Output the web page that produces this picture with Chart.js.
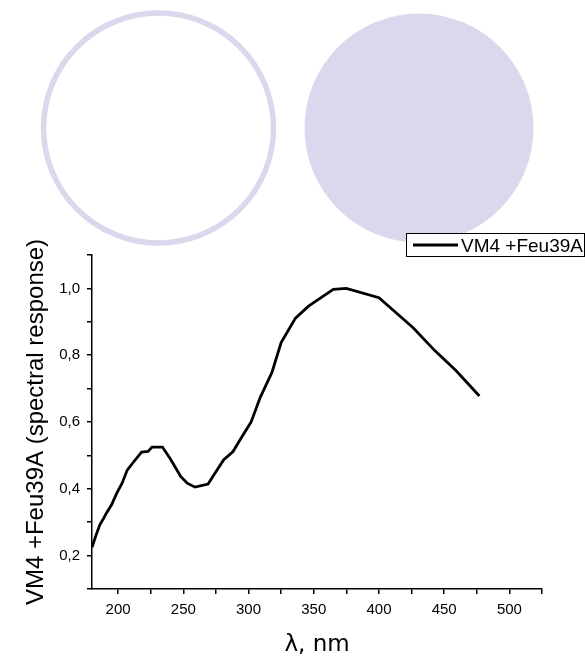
<!DOCTYPE html>
<html>
<head>
<meta charset="utf-8">
<title>VM4 +Feu39A spectral response</title>
<script src="https://cdn.jsdelivr.net/npm/chart.js@4.4.1/dist/chart.umd.min.js"></script>
<style>
  html, body { margin: 0; padding: 0; background: #fff; }
  #chart { display: block; }
</style>
</head>
<body>
<canvas id="chart" width="585" height="660"></canvas>
<script>
// Spectral response curve
const wavelengths = [180, 183, 186, 189, 191, 195, 199, 203, 207, 212, 218, 223, 226, 234, 240,
    248, 253, 259, 269, 275, 281, 288, 294, 302, 309, 318, 325, 336, 346, 365, 375, 400, 426,
    443, 459, 477];
const response = [0.225, 0.26, 0.292, 0.312, 0.327, 0.352, 0.387, 0.416, 0.456, 0.481, 0.51,
    0.512, 0.525, 0.525, 0.49, 0.437, 0.417, 0.405, 0.414, 0.451, 0.487, 0.511, 0.55, 0.6,
    0.674, 0.749, 0.838, 0.911, 0.947, 0.997, 1.0, 0.972, 0.883, 0.813, 0.754, 0.678];

const seriesLabel = 'VM4 +Feu39A';

// Axis ticks (minor ticks carry an empty label)
const xTicks = [200, 225, 250, 275, 300, 325, 350, 375, 400, 425, 450, 475, 500, 525];
const xTickLabels = ['200', '', '250', '', '300', '', '350', '', '400', '', '450', '', '500', ''];
const yTicks = [0.1, 0.2, 0.3, 0.4, 0.5, 0.6, 0.7, 0.8, 0.9, 1.0, 1.1];
const yTickLabels = ['', '0,2', '', '0,4', '', '0,6', '', '0,8', '', '1,0', ''];

const FONT = "'Liberation Sans', Arial, sans-serif";

// ===== decorative circles behind the plot =====
const circlesPlugin = {
    id: 'circles',
    beforeDraw(chart) {
        const ctx = chart.ctx;
        ctx.save();
        ctx.fillStyle = '#fff';
        ctx.fillRect(0, 0, chart.width, chart.height);

        // hollow ring
        ctx.beginPath();
        ctx.arc(158.5, 128, 115, 0, Math.PI * 2);
        ctx.strokeStyle = '#d9d8ec';
        ctx.lineWidth = 5.5;
        ctx.stroke();

        // filled disc
        ctx.beginPath();
        ctx.arc(419, 128, 114.5, 0, Math.PI * 2);
        ctx.fillStyle = '#d9d8ec';
        ctx.fill();
        ctx.restore();
    }
};

// ===== boxed legend in the top right corner =====
const boxLegendPlugin = {
    id: 'boxLegend',
    afterDraw(chart) {
        const ctx = chart.ctx;
        const ds = chart.data.datasets[0];
        ctx.save();
        ctx.fillStyle = '#fff';
        ctx.fillRect(406.5, 233.5, 178, 23);
        ctx.strokeStyle = '#000';
        ctx.lineWidth = 1;
        ctx.strokeRect(406.5, 233.5, 178, 23);

        ctx.beginPath();
        ctx.moveTo(413, 245);
        ctx.lineTo(458, 245);
        ctx.strokeStyle = ds.borderColor;
        ctx.lineWidth = 3;
        ctx.stroke();

        ctx.fillStyle = '#000';
        ctx.font = '19px ' + FONT;
        ctx.textBaseline = 'alphabetic';
        ctx.fillText(ds.label, 461, 252);
        ctx.restore();
    }
};

const points = wavelengths.map((w, i) => ({ x: w, y: response[i] }));

new Chart(document.getElementById('chart'), {
    type: 'line',
    data: {
        datasets: [{
            label: seriesLabel,
            data: points,
            borderColor: '#000',
            borderWidth: 2.8,
            pointRadius: 0,
            tension: 0,
            fill: false
        }]
    },
    options: {
        responsive: false,
        animation: false,
        devicePixelRatio: 1,
        layout: {
            padding: { top: 255, right: 43, left: 0, bottom: 0 }
        },
        plugins: {
            legend: { display: false },
            tooltip: { enabled: false }
        },
        scales: {
            x: {
                type: 'linear',
                position: 'bottom',
                min: 180,
                max: 525,
                afterFit: function (scale) { scale.height = 71; },
                afterBuildTicks: function (scale) {
                    scale.ticks = xTicks.map(v => ({ value: v }));
                },
                border: { display: true, color: '#000', width: 1.5 },
                grid: {
                    drawOnChartArea: false,
                    drawTicks: true,
                    tickLength: 5,
                    color: '#000',
                    lineWidth: 1.5
                },
                ticks: {
                    autoSkip: false,
                    maxRotation: 0,
                    color: '#000',
                    padding: 7,
                    font: { family: FONT, size: 15 },
                    callback: function (value, index) { return xTickLabels[index]; }
                },
                title: {
                    display: true,
                    text: 'λ, nm',
                    color: '#000',
                    font: { family: "'DejaVu Sans', sans-serif", size: 23 },
                    padding: { top: 0, bottom: 1 }
                }
            },
            y: {
                type: 'linear',
                min: 0.1,
                max: 1.1,
                afterFit: function (scale) { scale.width = 92; },
                afterBuildTicks: function (scale) {
                    scale.ticks = yTicks.map(v => ({ value: v }));
                },
                border: { display: true, color: '#000', width: 1.5 },
                grid: {
                    drawOnChartArea: false,
                    drawTicks: true,
                    tickLength: 5,
                    color: '#000',
                    lineWidth: 1.5
                },
                ticks: {
                    autoSkip: false,
                    color: '#000',
                    padding: 7,
                    font: { family: FONT, size: 15 },
                    callback: function (value, index) { return yTickLabels[index]; }
                },
                title: {
                    display: true,
                    text: 'VM4 +Feu39A (spectral response)',
                    color: '#000',
                    font: { family: FONT, size: 24 },
                    padding: { top: 22, bottom: 0 }
                }
            }
        }
    },
    plugins: [circlesPlugin, boxLegendPlugin]
});
</script>
</body>
</html>
